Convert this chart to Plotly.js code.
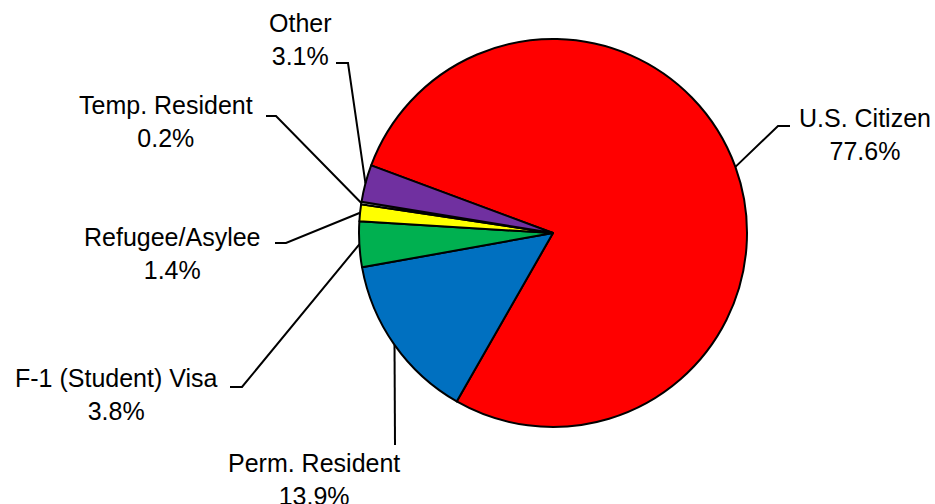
<!DOCTYPE html>
<html>
<head>
<meta charset="utf-8">
<script src="https://cdn.plot.ly/plotly-3.0.1.min.js"></script>
<style>html,body{margin:0;padding:0;background:#fff;}#chart{width:935px;height:504px;}</style>
</head>
<body>
<div id="chart"></div>
<script>
// Data
var categories = ["U.S. Citizen", "Perm. Resident", "F-1 (Student) Visa", "Refugee/Asylee", "Temp. Resident", "Other"];
var percents = [77.6, 13.9, 3.8, 1.4, 0.2, 3.1];
var valueLabels = ["77.6%", "13.9%", "3.8%", "1.4%", "0.2%", "3.1%"];
var sliceColors = ["#FF0000", "#0070C0", "#00B050", "#FFFF00", "#FFFFFF", "#7030A0"];

// Layout constants (pixels)
var W = 935, H = 504;
var CX = 553, CY = 233, R = 194;
var ROT = -69.6; // first slice start angle (clockwise from 12 o'clock)
var FS = 25;
// label placement: text centre, elbow point, end of horizontal tick
var labelPos = [
  {tx: 865, ty: 134.5, ex: 778, ey: 126, hx: 790},
  {tx: 314, ty: 479.5, ex: 395, ey: 445, hx: 395},
  {tx: 117, ty: 394.5, ex: 242, ey: 387, hx: 230},
  {tx: 172, ty: 253.5, ex: 286, ey: 243, hx: 275},
  {tx: 166, ty: 121.5, ex: 276, ey: 116, hx: 266},
  {tx: 300, ty: 39.5,  ex: 348, ey: 63,  hx: 336}
];

function px(x){ return x / W; }
function py(y){ return 1 - y / H; }

var total = percents.reduce(function(a,b){return a+b;}, 0);
var shapes = [], annotations = [];
var cum = 0;
for (var i = 0; i < percents.length; i++) {
  var mid = ROT + 360 * (cum + percents[i] / 2) / total;
  cum += percents[i];
  var a = mid * Math.PI / 180;
  var sx = CX + R * Math.sin(a), sy = CY - R * Math.cos(a);
  var L = labelPos[i];
  shapes.push({
    type: 'path', xref: 'paper', yref: 'paper',
    path: 'M' + px(sx) + ',' + py(sy) + ' L' + px(L.ex) + ',' + py(L.ey) + ' L' + px(L.hx) + ',' + py(L.ey),
    line: {color: '#000', width: 2}
  });
  annotations.push({
    xref: 'paper', yref: 'paper', x: px(L.tx), y: py(L.ty),
    xanchor: 'center', yanchor: 'middle', showarrow: false, align: 'center',
    text: categories[i] + '<br>' + valueLabels[i],
    font: {family: 'Liberation Sans, Arial, sans-serif', size: FS, color: '#000'}
  });
}

var trace = {
  type: 'pie',
  labels: categories,
  values: percents,
  sort: false,
  direction: 'clockwise',
  rotation: ROT,
  textinfo: 'none',
  hoverinfo: 'none',
  marker: {colors: sliceColors, line: {color: '#000', width: 2}},
  domain: {x: [px(CX - R), px(CX + R)], y: [py(CY + R), py(CY - R)]}
};

var layout = {
  width: W, height: H,
  margin: {l: 0, r: 0, t: 0, b: 0, pad: 0},
  paper_bgcolor: '#fff',
  showlegend: false,
  shapes: shapes,
  annotations: annotations
};

Plotly.newPlot('chart', [trace], layout, {displayModeBar: false, staticPlot: true});
</script>
</body>
</html>
